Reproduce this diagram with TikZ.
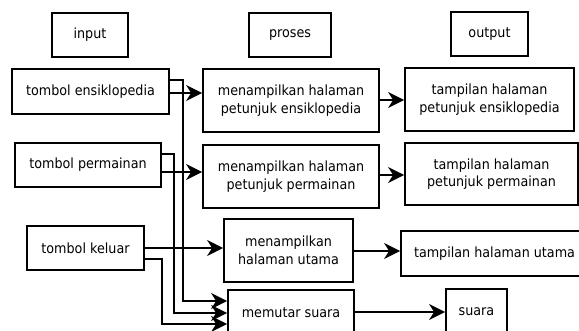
\documentclass[tikz,border=0pt]{standalone}
\usepackage{fontspec}
\setmainfont{DejaVu Sans}[FakeStretch=0.91]
\usetikzlibrary{arrows.meta}
\begin{document}
\begin{tikzpicture}[x=1pt,y=-1pt,
  box/.style={draw, line width=1.8pt, inner sep=0pt, align=center, font=\fontsize{14}{17.5}\selectfont},
  arr/.style={line width=1.8pt, -{Stealth[length=16pt,width=16pt,inset=5pt]}}]
\useasboundingbox (0,0) rectangle (579,331);
\clip (0,0) rectangle (579,331);
% headers
\node[box, minimum width=76pt, minimum height=44pt] (in) at (90,35) {input};
\node[box, minimum width=82pt, minimum height=44pt] (pr) at (290,35) {proses};
\node[box, minimum width=77pt, minimum height=44pt] (out) at (489.5,34) {output};
% inputs
\node[box, minimum width=157pt, minimum height=45pt] (te) at (90.5,91.5) {tombol ensiklopedia};
\node[box, minimum width=146pt, minimum height=44pt] (tp) at (88,165) {tombol permainan};
\node[box, minimum width=117pt, minimum height=44pt] (tk) at (85.5,248) {tombol keluar};
% processes
\node[box, minimum width=176pt, minimum height=63pt] (p1) at (291,100.5) {menampilkan halaman\\petunjuk ensiklopedia};
\node[box, minimum width=176pt, minimum height=63pt] (p2) at (291,176.5) {menampilkan halaman\\petunjuk permainan};
\node[box, minimum width=129pt, minimum height=63pt] (p3) at (288.5,250.5) {menampilkan\\halaman utama};
\node[box, minimum width=126pt, minimum height=46pt] (p4) at (291,313) {memutar suara};
% outputs
\node[box, minimum width=169pt, minimum height=63pt] (o1) at (489.5,99.5) {tampilan halaman\\petunjuk ensiklopedia};
\node[box, minimum width=173pt, minimum height=62pt] (o2) at (491.5,174) {tampilan halaman\\petunjuk permainan};
\node[box, minimum width=187pt, minimum height=45pt] (o3) at (494.5,253.5) {tampilan halaman utama};
\node[box, minimum width=61pt, minimum height=46pt] (su) at (476.5,312) {suara};
% straight connectors
\draw[arr] (te.east |- 0,93) -- (p1.west |- 0,93);
\draw[arr] (tp.east |- 0,172) -- (p2.west |- 0,172);
\draw[arr] (tk.east) -- (p3.west |- tk.east);
\draw[arr] (p1.east |- 0,100) -- (o1.west |- 0,100);
\draw[arr] (p2.east |- 0,175) -- (o2.west |- 0,175);
\draw[arr] (p3.east |- 0,251) -- (o3.west |- 0,251);
\draw[arr] (p4.east |- 0,312) -- (su.west |- 0,312);
% routed connectors to memutar suara
\draw[arr] (te.east |- 0,80) -| (183,301) -- (p4.west |- 0,301);
\draw[arr] (tp.east |- 0,154) -| (174,313) -- (p4.west |- 0,313);
\draw[arr] (tk.east |- 0,259) -| (162,324) -- (p4.west |- 0,324);
\end{tikzpicture}
\end{document}
